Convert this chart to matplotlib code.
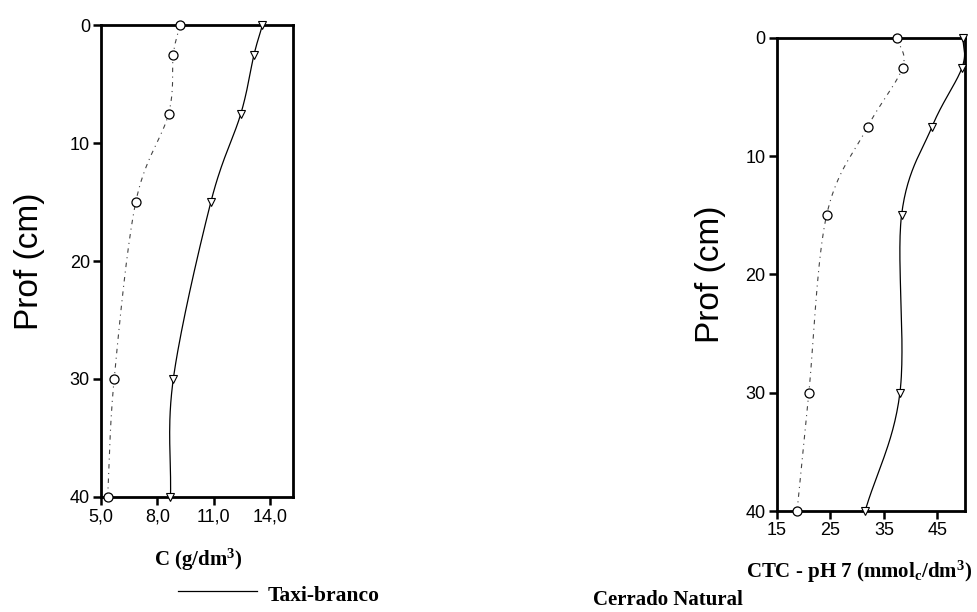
import numpy as np
import matplotlib
matplotlib.use("Agg")
import matplotlib.pyplot as plt

# depths sampled (cm)
depth = [0, 2.5, 7.5, 15, 30, 40]

# C (g/dm3)
c_taxi = [13.6, 13.15, 12.45, 10.85, 8.85, 8.7]
c_cerrado = [9.2, 8.85, 8.6, 6.85, 5.7, 5.35]

# CTC - pH 7 (mmolc/dm3)
ctc_taxi = [49.8, 49.6, 44.0, 38.3, 38.0, 31.5]
ctc_cerrado = [37.5, 38.5, 32.0, 24.3, 21.0, 18.8]

c_ticks = [5.0, 8.0, 11.0, 14.0]
c_ticklabels = ["5,0", "8,0", "11,0", "14,0"]
ctc_ticks = [15, 25, 35, 45]
depth_ticks = [0, 10, 20, 30, 40]

SANS = "Liberation Sans"
SERIF = "Liberation Serif"

plt.rcParams["mathtext.fontset"] = "custom"
plt.rcParams["mathtext.rm"] = SERIF + ":bold"
plt.rcParams["mathtext.it"] = SERIF + ":bold"
plt.rcParams["mathtext.bf"] = SERIF + ":bold"


def smooth(xs, ys, n=30):
    # catmull-rom curve through the points, only for drawing the line
    p = np.column_stack([xs, ys]).astype(float)
    p = np.vstack([2 * p[0] - p[1], p, 2 * p[-1] - p[-2]])
    out = []
    t = np.linspace(0, 1, n)[:, None]
    for i in range(1, len(p) - 2):
        p0, p1, p2, p3 = p[i - 1], p[i], p[i + 1], p[i + 2]
        seg = 0.5 * ((2 * p1) + (-p0 + p2) * t
                     + (2 * p0 - 5 * p1 + 4 * p2 - p3) * t ** 2
                     + (-p0 + 3 * p1 - 3 * p2 + p3) * t ** 3)
        out.append(seg)
    out = np.vstack(out)
    return out[:, 0], out[:, 1]


def panel(ax, taxi, cerrado, xlim, xticks, xticklabels, xlabel):
    sx, sy = smooth(taxi, depth)
    ax.plot(sx, sy, color="black", lw=0.9, clip_on=False)
    ax.plot(taxi, depth, linestyle="none", marker="v", ms=6, mfc="white",
            mec="black", mew=0.8, clip_on=False, zorder=3)
    sx, sy = smooth(cerrado, depth)
    ax.plot(sx, sy, color="#444444", lw=0.8, linestyle=(0, (4, 4, 1, 4)),
            clip_on=False)
    ax.plot(cerrado, depth, linestyle="none", marker="o", ms=6.5, mfc="white",
            mec="black", mew=0.9, clip_on=False, zorder=3)

    ax.set_xlim(*xlim)
    ax.set_ylim(40, 0)
    ax.set_xticks(xticks)
    ax.set_xticklabels(xticklabels)
    ax.set_yticks(depth_ticks)
    for s in ax.spines.values():
        s.set_linewidth(2.0)
    ax.tick_params(direction="out", length=6, width=1.8, labelsize=13,
                   pad=2, top=False, right=False)
    for lab in ax.get_xticklabels() + ax.get_yticklabels():
        lab.set_fontfamily(SANS)
    ax.set_ylabel("Prof (cm)", fontsize=24, family=SANS, labelpad=18)
    ax.set_xlabel(xlabel, fontsize=15, family=SERIF, fontweight="bold")


fig = plt.figure(figsize=(9.77, 6.12), dpi=100)
ax1 = fig.add_axes([0.1034, 0.188, 0.196, 0.771])
ax2 = fig.add_axes([0.795, 0.165, 0.193, 0.773])

panel(ax1, c_taxi, c_cerrado, (5.0, 15.2), c_ticks, c_ticklabels,
      r"C (g/dm$^3$)")
panel(ax2, ctc_taxi, ctc_cerrado, (15, 50.2), ctc_ticks,
      [str(t) for t in ctc_ticks],
      r"CTC - pH 7 (mmol$_\mathrm{c}$/dm$^3$)")
ax1.xaxis.set_label_coords(0.51, -0.105)
ax2.xaxis.set_label_coords(0.437, -0.10)
ax2.yaxis.labelpad = 14

# legend
fig.lines.append(plt.Line2D([178 / 977, 257 / 977], [1 - 591 / 612] * 2,
                            transform=fig.transFigure, color="black", lw=0.9))
fig.text(268 / 977, 1 - 596 / 612, "Taxi-branco", family=SERIF,
         fontweight="bold", fontsize=15.5, va="center")
fig.text(593 / 977, 1 - 600 / 612, "Cerrado Natural", family=SERIF,
         fontweight="bold", fontsize=15, va="center")

fig.savefig("out.png", dpi=100)
